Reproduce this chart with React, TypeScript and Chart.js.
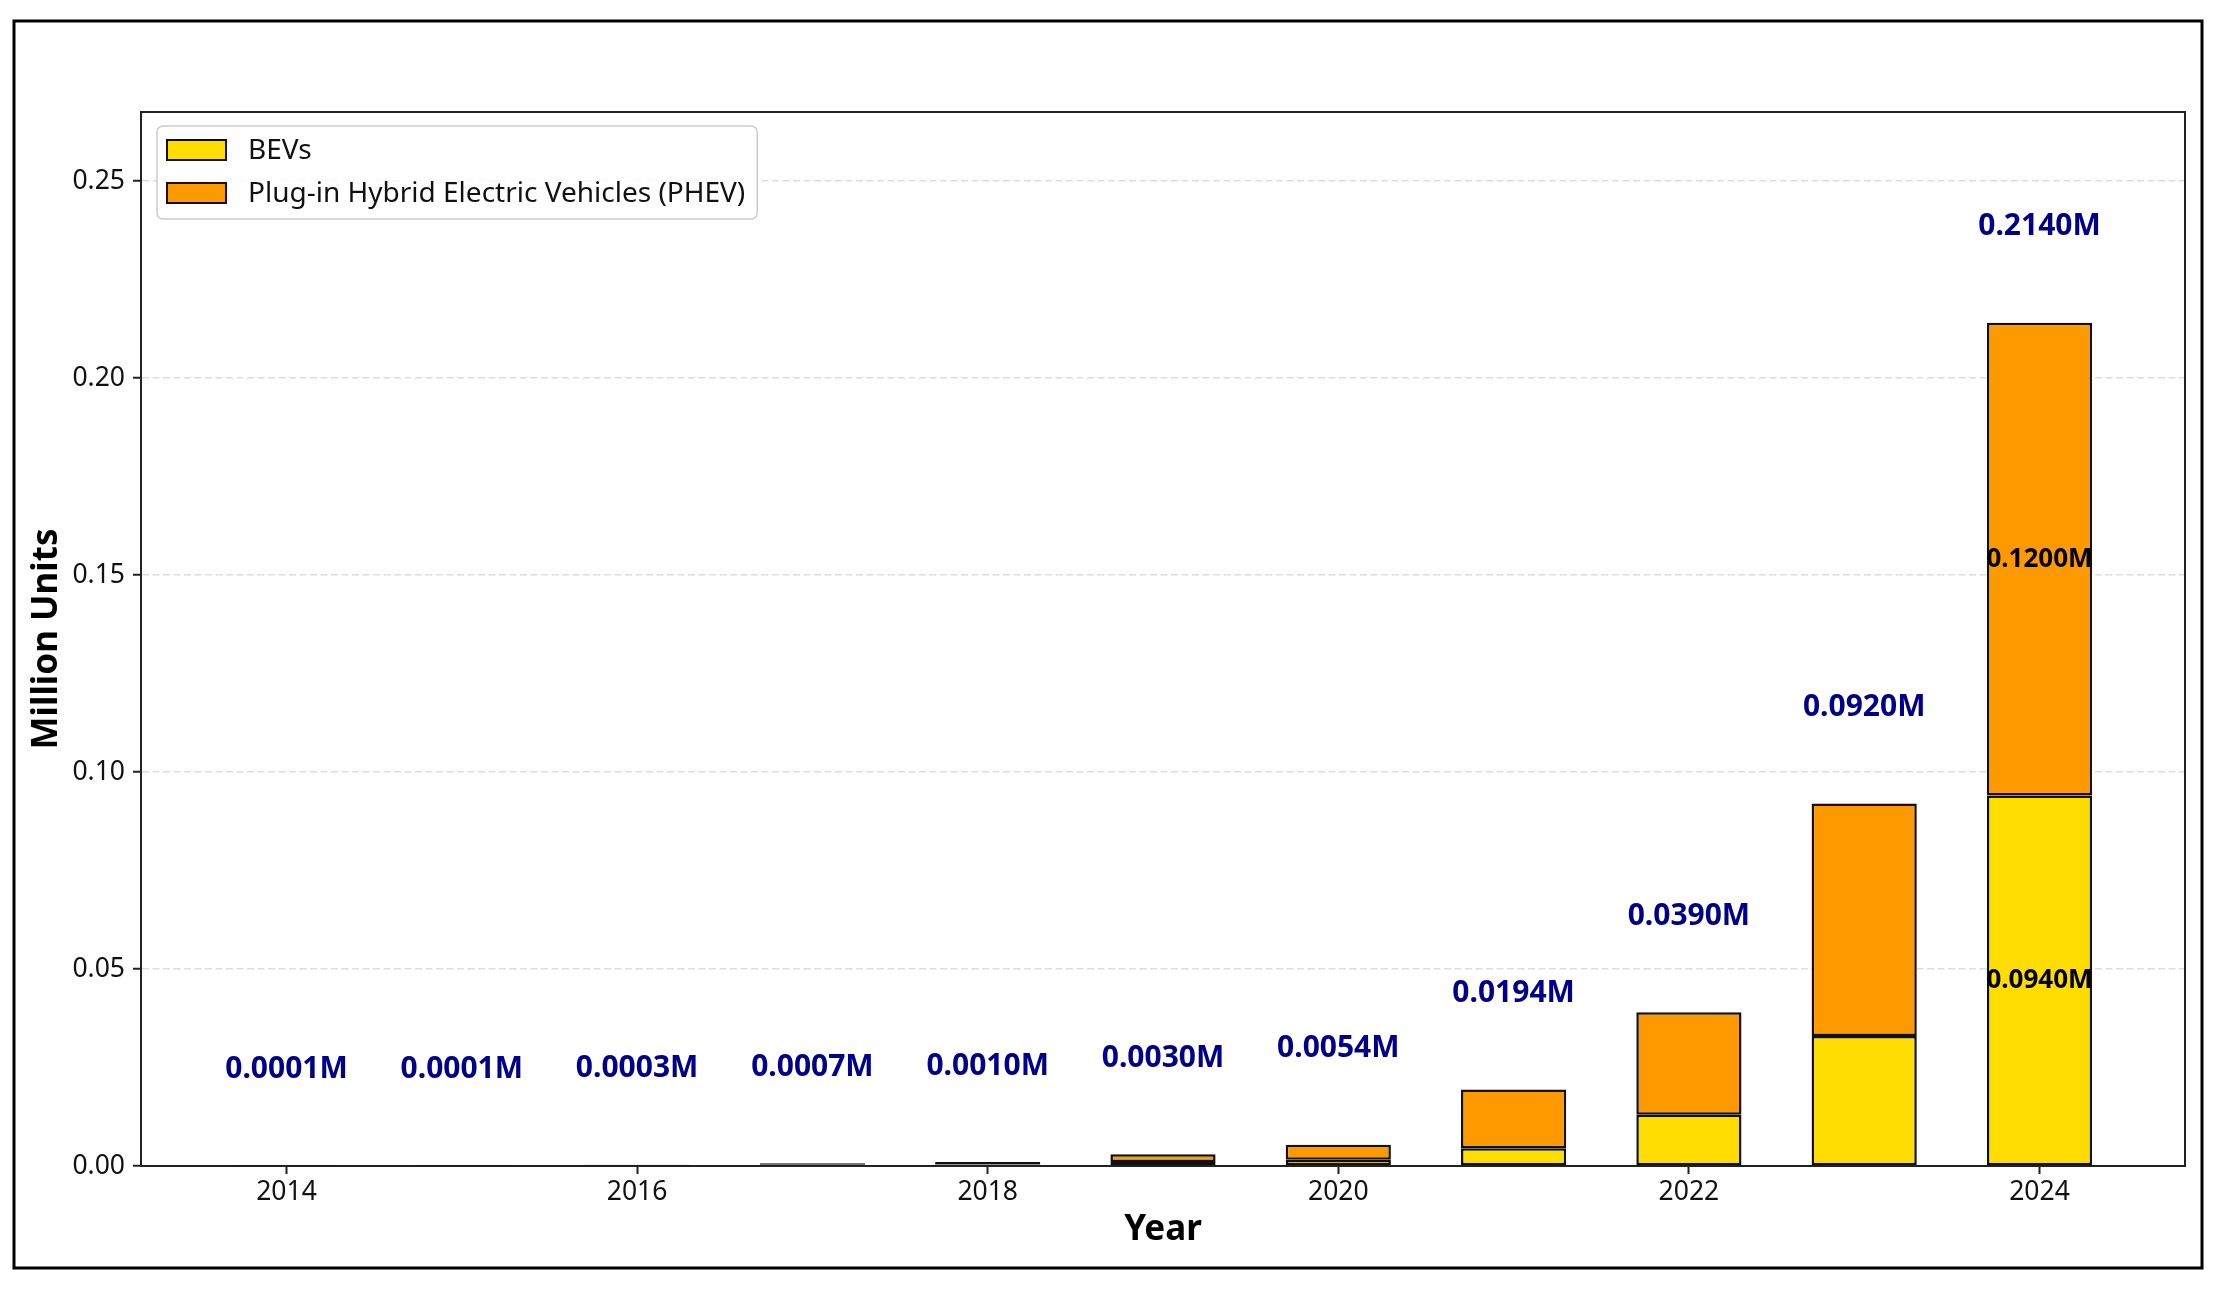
import React, { useEffect, useRef } from "react";
import { Chart, registerables } from "chart.js";

Chart.register(...registerables);

const years = [2014, 2015, 2016, 2017, 2018, 2019, 2020, 2021, 2022, 2023, 2024];
const bevValues = [0.00005, 0.00005, 0.0001, 0.0003, 0.0004, 0.001, 0.0016, 0.0045, 0.013, 0.033, 0.094];
const phevValues = [0.00005, 0.00005, 0.0002, 0.0004, 0.0006, 0.002, 0.0038, 0.0149, 0.026, 0.059, 0.12];
const seriesLabels = ["BEVs", "Plug-in Hybrid Electric Vehicles (PHEV)"];
const seriesColors = ["#FFDD00", "#FF9900"];
const xTickValues = [2014, 2016, 2018, 2020, 2022, 2024];
const yTickValues = [0, 0.05, 0.1, 0.15, 0.2, 0.25];
const xTitle = "Year";
const yTitle = "Million Units";

const W = 2219;
const H = 1291;
const FONT = "'Noto Sans', 'Open Sans', sans-serif";

export default function App() {
  const ref = useRef<HTMLCanvasElement | null>(null);

  useEffect(() => {
    if (!ref.current) return;
    const totals = years.map((_, i) => bevValues[i] + phevValues[i]);
    const maxTotal = Math.max(...totals);
    const barWidth = 0.6;
    const dMin = years[0] - barWidth / 2;
    const dMax = years[years.length - 1] + barWidth / 2;
    const margin = (dMax - dMin) * 0.05;

    const overlay = {
      id: "overlay",
      beforeDraw(chart: any) {
        const { ctx } = chart;
        ctx.save();
        ctx.fillStyle = "#fff";
        ctx.fillRect(0, 0, W, H);
        ctx.restore();
      },
      afterDatasetsDraw(chart: any) {
        const { ctx, scales } = chart;
        const x = scales.x;
        const y = scales.y;
        ctx.save();
        ctx.font = `bold 30px ${FONT}`;
        ctx.fillStyle = "#00008B";
        ctx.textAlign = "center";
        ctx.textBaseline = "alphabetic";
        years.forEach((yr, i) => {
          ctx.fillText(
            totals[i].toFixed(4) + "M",
            x.getPixelForValue(yr),
            y.getPixelForValue(totals[i] + maxTotal * 0.1) - 3
          );
        });
        ctx.font = `bold 26px ${FONT}`;
        ctx.fillStyle = "#000";
        ctx.textBaseline = "middle";
        const series = [bevValues, phevValues];
        years.forEach((yr, i) => {
          let base = 0;
          series.forEach((arr) => {
            const v = arr[i];
            if (v >= 0.08) {
              ctx.fillText(v.toFixed(4) + "M", x.getPixelForValue(yr), y.getPixelForValue(base + v / 2));
            }
            base += v;
          });
        });
        ctx.restore();
      },
      afterDraw(chart: any) {
        const { ctx, chartArea } = chart;
        const { left, top, right, bottom } = chartArea;
        ctx.save();
        ctx.strokeStyle = "#222";
        ctx.lineWidth = 2;
        ctx.beginPath();
        ctx.moveTo(left, top);
        ctx.lineTo(right, top);
        ctx.lineTo(right, bottom);
        ctx.stroke();

        ctx.font = `28px ${FONT}`;
        const textWidths = seriesLabels.map((t) => ctx.measureText(t).width);
        const bx = left + 16;
        const by = top + 14;
        const textX = left + 107;
        const bw = textX + Math.max(...textWidths) + 12 - bx;
        const bh = 93;
        ctx.fillStyle = "rgba(255,255,255,0.85)";
        ctx.strokeStyle = "#cccccc";
        ctx.lineWidth = 1.5;
        ctx.beginPath();
        (ctx as any).roundRect(bx, by, bw, bh, 6);
        ctx.fill();
        ctx.stroke();
        seriesLabels.forEach((label, i) => {
          const cy = by + 24 + i * 43;
          ctx.fillStyle = seriesColors[i];
          ctx.fillRect(left + 26, cy - 10, 59, 20);
          ctx.strokeStyle = "#111";
          ctx.lineWidth = 2;
          ctx.strokeRect(left + 26, cy - 10, 59, 20);
          ctx.fillStyle = "#111";
          ctx.textAlign = "left";
          ctx.textBaseline = "middle";
          ctx.fillText(label, textX, cy + 1);
        });

        ctx.strokeStyle = "#000";
        ctx.lineWidth = 3;
        ctx.strokeRect(14, 21, 2188, 1247);
        ctx.restore();
      },
    };

    const chart = new Chart(ref.current, {
      type: "bar",
      data: {
        datasets: [
          {
            label: seriesLabels[0],
            data: years.map((yr, i) => ({ x: yr, y: bevValues[i] })),
            backgroundColor: seriesColors[0],
            borderColor: "#111",
            borderWidth: 2.5,
            borderSkipped: false,
            categoryPercentage: barWidth,
            barPercentage: 1,
          },
          {
            label: seriesLabels[1],
            data: years.map((yr, i) => ({ x: yr, y: phevValues[i] })),
            backgroundColor: seriesColors[1],
            borderColor: "#111",
            borderWidth: 2.5,
            borderSkipped: false,
            categoryPercentage: barWidth,
            barPercentage: 1,
          },
        ],
      } as any,
      options: {
        responsive: false,
        devicePixelRatio: 1,
        animation: false,
        layout: { padding: { top: 112, right: 34, left: 0, bottom: 0 } },
        plugins: {
          legend: { display: false },
          tooltip: { enabled: false },
          title: { display: false },
        },
        scales: {
          x: {
            type: "linear",
            stacked: true,
            offset: false,
            min: dMin - margin,
            max: dMax + margin,
            afterBuildTicks: (scale: any) => {
              scale.ticks = xTickValues.map((v) => ({ value: v }));
            },
            afterFit: (scale: any) => {
              scale.height = 125;
            },
            ticks: {
              callback: (v: any) => String(v),
              font: { family: FONT, size: 26.5 },
              color: "#111",
              padding: 3,
              maxRotation: 0,
              autoSkip: false,
            },
            grid: {
              display: true,
              offset: false,
              drawOnChartArea: false,
              drawTicks: true,
              tickLength: 8,
              tickColor: "#222",
              tickWidth: 2,
            },
            border: { display: true, color: "#222", width: 2 },
            title: {
              display: true,
              text: xTitle,
              color: "#000",
              font: { family: FONT, size: 35, weight: "bold", lineHeight: 1.2 },
              padding: { top: 0, bottom: 40 },
            },
          },
          y: {
            type: "linear",
            stacked: true,
            min: 0,
            max: maxTotal * 1.25,
            afterBuildTicks: (scale: any) => {
              scale.ticks = yTickValues.map((v) => ({ value: v }));
            },
            afterFit: (scale: any) => {
              scale.width = 141;
            },
            ticks: {
              callback: (v: any) => Number(v).toFixed(2),
              font: { family: FONT, size: 26.5 },
              color: "#111",
              padding: 8,
              autoSkip: false,
            },
            grid: {
              display: true,
              drawOnChartArea: true,
              drawTicks: true,
              tickLength: 8,
              color: "#dddddd",
              lineWidth: 1.5,
              tickColor: "#222",
              tickWidth: 2,
              tickBorderDash: [],
            } as any,
            border: { display: true, color: "#222", width: 2, dash: [7, 3.5] } as any,
            title: {
              display: true,
              text: yTitle,
              color: "#000",
              font: { family: FONT, size: 35, weight: "bold", lineHeight: 1.2 },
              padding: { top: 26, bottom: 0 },
            },
          },
        },
      } as any,
      plugins: [overlay as any],
    });
    return () => chart.destroy();
  }, []);

  return (
    <div style={{ position: "fixed", left: 0, top: 0, width: W, height: H, background: "#fff" }}>
      <canvas ref={ref} width={W} height={H} style={{ width: W, height: H, display: "block" }} />
    </div>
  );
}
